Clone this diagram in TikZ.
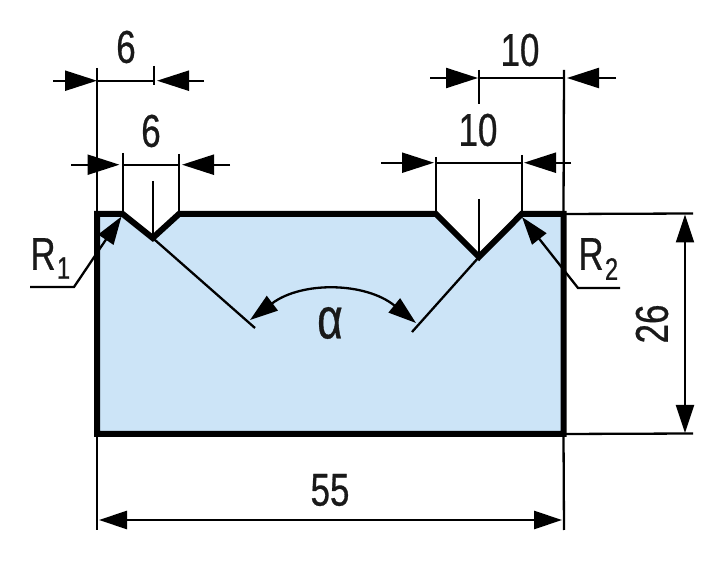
\documentclass[tikz,border=0pt]{standalone}
\usepackage{fontspec}
\setmainfont[FakeStretch=0.76,FakeBold=0.6]{Liberation Sans}
\usetikzlibrary{arrows.meta, positioning}

\begin{document}
\begin{tikzpicture}[
     x=1pt, y=-1pt,
     >={Triangle[length=32pt,width=20pt]},
     thin line/.style = {line width=2.3pt},
     dim line/.style = {line width=2.3pt, ->},
     small tip/.style = {>={Triangle[length=28pt,width=18pt]}},
     profile/.style = {line width=6pt, miter limit=10},
     dim/.style = {inner sep=0pt, font=\fontsize{46}{46}\selectfont, text=black!90},
     sub/.style = {inner sep=0pt, font=\fontsize{31}{31}\selectfont, text=black!90}
                        ]
\useasboundingbox (0,0) rectangle (724,561);
% corners of the block
\coordinate (tl) at (97,214);
\coordinate (tr) at (563.5,214);
\coordinate (br) at (563.5,434);
\coordinate (bl) at (97,434);
\coordinate (a1) at (122.7,214);
\coordinate (a2) at (152.7,238);
\coordinate (a3) at (179,214);
\coordinate (b1) at (436,214);
\coordinate (b2) at (479,257);
\coordinate (b3) at (521.7,214);
\definecolor{blockblue}{RGB}{204,228,247}
\draw[profile, fill=blockblue] (tl) -- (a1) -- (a2) -- (a3) -- (b1) -- (b2) -- (b3) -- (tr) -- (br) -- (bl) -- cycle;
% flank lines and angle
\coordinate (la) at (255,328);
\coordinate (lb) at (412,332);
\coordinate (ta) at (250,320);
\coordinate (tb) at (416,323);
\draw[thin line] (a2) -- (la);
\draw[thin line] (b2) -- (lb);
\draw[thin line, small tip, <->] (ta) to[bend left=38] (tb);
\node (alpha) [dim, font=\fontsize{58}{58}\selectfont] at (330,323) {α};
% top left dimensions
\coordinate (e1) at (97,68);
\coordinate (e2) at (154,66);
\coordinate (e3) at (154,85);
\coordinate (s1) at (53,80.7);
\coordinate (s2) at (204,80.7);
\coordinate (s3) at (157,80.7);
\coordinate (s4) at (97,80.7);
\coordinate (s5) at (154,80.7);
\draw[thin line] (e1) -- (tl);
\draw[thin line] (e2) -- (e3);
\draw[thin line] (s4) -- (s5);
\draw[dim line] (s1) -- (s4);
\draw[dim line] (s2) -- (s3);
\node (six1) [dim] at (126,47) {6};
\coordinate (f1) at (122.7,153);
\coordinate (f2) at (179,154);
\coordinate (f3) at (152.7,181);
\coordinate (u1) at (71,164.7);
\coordinate (u2) at (119.5,164.7);
\coordinate (u3) at (122.7,164.7);
\coordinate (u4) at (179,164.7);
\coordinate (u5) at (182,164.7);
\coordinate (u6) at (230,164.7);
\draw[thin line] (f1) -- (a1);
\draw[thin line] (f2) -- (a3);
\draw[thin line] (f3) -- (a2);
\draw[thin line] (u3) -- (u4);
\draw[dim line] (u1) -- (u2);
\draw[dim line] (u6) -- (u5);
\node (six2) [dim] at (151,131) {6};
% top right dimensions
\coordinate (g1) at (479,70);
\coordinate (g2) at (479,104);
\coordinate (g3) at (564,70);
\coordinate (v1) at (430,78);
\coordinate (v2) at (478,78);
\coordinate (v3) at (479,78);
\coordinate (v4) at (564,78);
\coordinate (v5) at (567,78);
\coordinate (v6) at (616,78);
\draw[thin line] (g1) -- (g2);
\draw[thin line] (g3) -- (tr);
\draw[thin line] (v3) -- (v4);
\draw[dim line] (v1) -- (v2);
\draw[dim line] (v6) -- (v5);
\node (ten1) [dim] at (520,50) {10};
\coordinate (h1) at (436,157);
\coordinate (h2) at (521.7,155);
\coordinate (h3) at (479,199);
\coordinate (w1) at (381,162.7);
\coordinate (w2) at (434,162.7);
\coordinate (w3) at (436,162.7);
\coordinate (w4) at (521.7,162.7);
\coordinate (w5) at (524,162.7);
\coordinate (w6) at (571,162.7);
\draw[thin line] (h1) -- (b1);
\draw[thin line] (h2) -- (b3);
\draw[thin line] (h3) -- (b2);
\draw[thin line] (w3) -- (w4);
\draw[dim line] (w1) -- (w2);
\draw[dim line] (w6) -- (w5);
\node (ten2) [dim] at (478,130) {10};
% height
\coordinate (i1) at (693,213.5);
\coordinate (i2) at (693,433.5);
\coordinate (x1) at (685,214.5);
\coordinate (x2) at (685,433);
\draw[thin line] (tr) -- (i1);
\draw[thin line] (br) -- (i2);
\draw[thin line, small tip, <->] (x1) -- (x2);
\node (height) [dim, rotate=90] at (652,324) {26};
% width
\coordinate (j1) at (97,530);
\coordinate (j2) at (564,530);
\coordinate (y1) at (99,520);
\coordinate (y2) at (562,520);
\draw[thin line] (bl) -- (j1);
\draw[thin line] (br) -- (j2);
\draw[line width=2.8pt, small tip, <->] (y1) -- (y2);
\node (width) [dim] at (330,490) {55};
% radii
\coordinate (k1) at (30,287);
\coordinate (k2) at (74,287);
\coordinate (k3) at (121.5,216.5);
\coordinate (m1) at (620,288);
\coordinate (m2) at (578,288);
\coordinate (m3) at (522,217);
\draw[thin line, small tip, ->] (k1) -- (k2) -- (k3);
\draw[thin line, small tip, ->] (m1) -- (m2) -- (m3);
\node (rone) [dim] at (43,254) {R};
\node (ronesub) [sub, right=1pt of rone.east, yshift=-14pt] {1};
\node (rtwo) [dim] at (591,254) {R};
\node (rtwosub) [sub, right=1pt of rtwo.east, yshift=-15pt] {2};
\end{tikzpicture}
\end{document}
